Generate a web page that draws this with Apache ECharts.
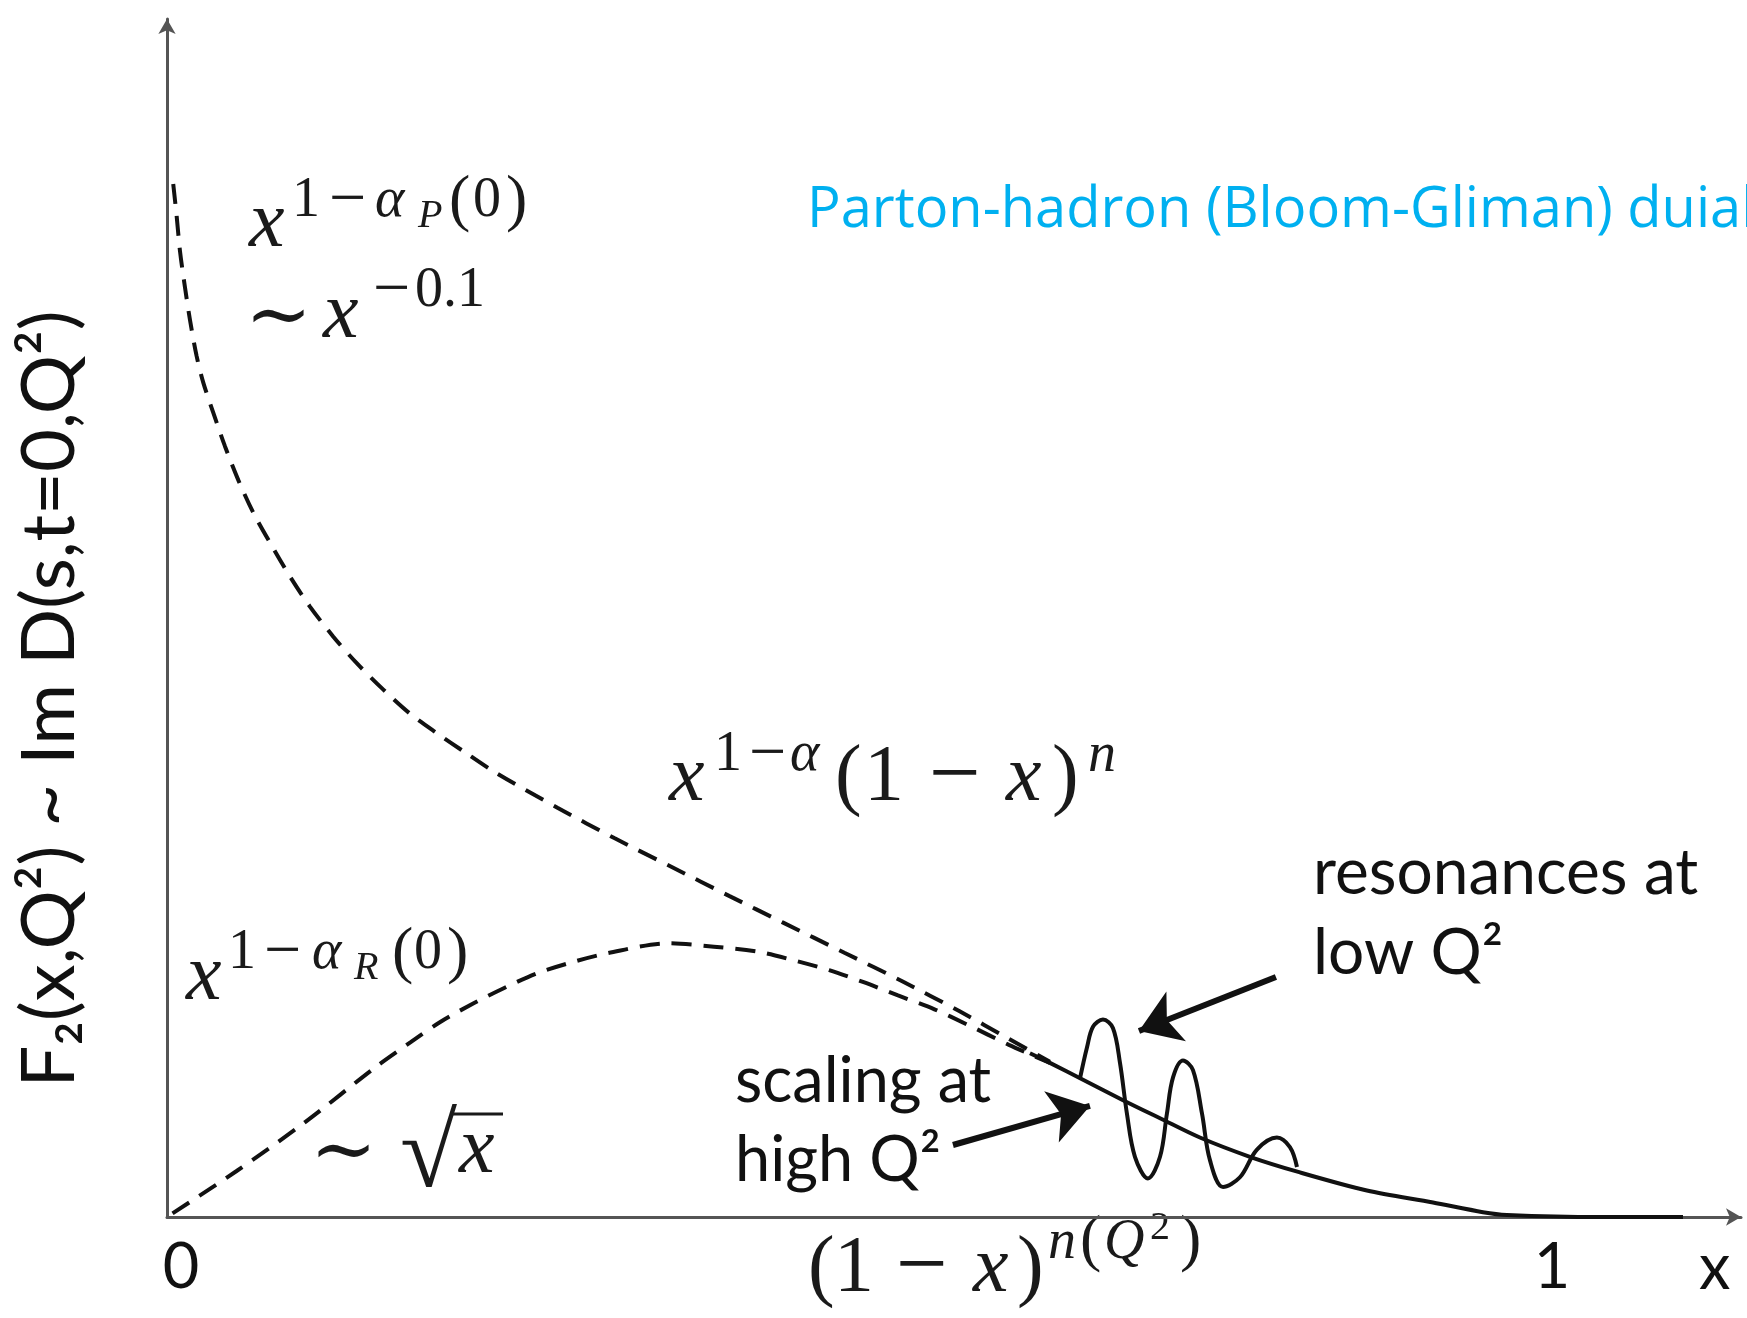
<!DOCTYPE html>
<html>
<head>
<meta charset="utf-8">
<script src="https://cdn.jsdelivr.net/npm/echarts@6/dist/echarts.min.js"></script>
<style>
  html, body { margin: 0; padding: 0; background: #ffffff; }
  #chart { width: 1747px; height: 1318px; }
</style>
</head>
<body>
<div id="chart"></div>
<script>
// Structure function F2 versus x, arbitrary units (0 on the x axis).
// Pomeron-dominated small-x rise, ~ x^(1 - alpha_P(0)) ~ x^-0.1
const pomeronCurve = [
  [0.0045, 0.858], [0.0070, 0.831], [0.0094, 0.802], [0.0130, 0.772], [0.0166, 0.745],
  [0.0214, 0.715], [0.0262, 0.693], [0.0334, 0.668], [0.0419, 0.640], [0.0515, 0.612],
  [0.0623, 0.585], [0.0744, 0.560], [0.0888, 0.532], [0.1032, 0.507], [0.1201, 0.482],
  [0.1370, 0.460], [0.1562, 0.438], [0.1755, 0.418], [0.1947, 0.402], [0.2164, 0.385],
  [0.2381, 0.3685], [0.2819, 0.340], [0.3233, 0.3145], [0.3648, 0.2905], [0.4062, 0.2665],
  [0.4449, 0.2445], [0.4891, 0.2195], [0.5305, 0.196], [0.5720, 0.171], [0.6079, 0.148],
  [0.6375, 0.129]
];
// Reggeon (valence) contribution, ~ x^(1 - alpha_R(0)) ~ sqrt(x)
const reggeonCurve = [
  [0.0040, 0.003], [0.0500, 0.038], [0.1000, 0.079], [0.1500, 0.124], [0.1757, 0.145],
  [0.1973, 0.162], [0.2214, 0.1775], [0.2431, 0.190], [0.2671, 0.2024], [0.2936, 0.212],
  [0.3177, 0.219], [0.3618, 0.2273], [0.3949, 0.2245], [0.4283, 0.220], [0.4532, 0.213],
  [0.4781, 0.205], [0.5030, 0.195], [0.5278, 0.184], [0.5541, 0.1725], [0.5775, 0.160],
  [0.6079, 0.143], [0.6375, 0.128]
];
// Scaling curve at high Q^2, ~ (1 - x)^n(Q^2)
const scalingCurve = [
  [0.6231, 0.136], [0.6375, 0.128], [0.6614, 0.114], [0.6903, 0.097], [0.7170, 0.082],
  [0.7458, 0.066], [0.7819, 0.050], [0.8181, 0.037], [0.8664, 0.022], [0.9141, 0.012],
  [0.9502, 0.004], [0.9675, 0.0017], [1.0347, 0.0], [1.0946, 0.0]
];
// Resonance bumps at low Q^2
const resonanceCurve = [
  [0.6592, 0.115], [0.6643, 0.141], [0.6686, 0.158], [0.6758, 0.164], [0.6830, 0.157],
  [0.6881, 0.128], [0.6931, 0.086], [0.6989, 0.050], [0.7083, 0.032], [0.7170, 0.050],
  [0.7220, 0.086], [0.7264, 0.116], [0.7336, 0.130], [0.7408, 0.122], [0.7473, 0.086],
  [0.7531, 0.047], [0.7625, 0.025], [0.7747, 0.033], [0.7870, 0.056], [0.8014, 0.066],
  [0.8108, 0.058], [0.8159, 0.0415]
];
const xTickValues = [0, 1];
const xTickLabels = ['0', '1'];
const titleText = 'Parton-hadron (Bloom-Gliman) duial';
const yAxisTitle = 'F\u2082(x,Q\u00B2) ~ Im D(s,t=0,Q\u00B2)';
const xAxisTitle = 'x';

const SERIF = '"Liberation Serif", "DejaVu Serif", serif';
const SANS = 'Lato, "Noto Sans", sans-serif';
const INK = '#1a1a1a';

// one glyph run of a formula, placed by its left edge and baseline
function tok(text, left, base, size, italic) {
  return {
    type: 'text', x: left, y: base - 0.3375 * size, silent: true,
    style: {
      text: text, fontFamily: SERIF, fontSize: size,
      fontStyle: italic ? 'italic' : 'normal', fill: INK,
      align: 'left', verticalAlign: 'middle'
    }
  };
}
function sans(text, left, base, size) {
  return {
    type: 'text', x: left, y: base - 0.387 * size, silent: true,
    style: {
      text: text, fontFamily: SANS, fontSize: size, fill: '#111',
      align: 'left', verticalAlign: 'middle'
    }
  };
}

const formulas = [
  // x^{1-alpha_P(0)}
  tok('x', 249, 252, 80, true),
  tok('1', 292, 220, 56), tok('\u2212', 329, 224, 66), tok('\u03B1', 375, 220, 56, true),
  tok('P', 418, 230, 40, true), tok('(', 449, 224, 64), tok('0', 473, 220, 56), tok(')', 506, 224, 64),
  // ~ x^{-0.1}
  tok('\u223C', 245, 347, 80), tok('x', 323, 343, 80, true),
  tok('\u2212', 373, 314, 66), tok('0.1', 415, 310, 56),
  // x^{1-alpha}(1 - x)^n
  tok('x', 669, 806, 80, true),
  tok('1', 714, 774, 56), tok('\u2212', 749, 778, 66), tok('\u03B1', 790, 774, 56, true),
  tok('(', 835, 806, 80), tok('1', 864, 806, 80), tok('\u2212', 929, 810, 92),
  tok('x', 1006, 806, 80, true), tok(')', 1052, 806, 80), tok('n', 1088, 775, 56, true),
  // x^{1-alpha_R(0)}
  tok('x', 186, 1005, 80, true),
  tok('1', 228, 972, 56), tok('\u2212', 264, 976, 66), tok('\u03B1', 312, 972, 56, true),
  tok('R', 354, 982, 40, true), tok('(', 392, 976, 64), tok('0', 414, 972, 56), tok(')', 447, 976, 64),
  // ~ sqrt(x)
  tok('\u223C', 310, 1182, 80), tok('\u221A', 400, 1194, 104), tok('x', 459, 1178, 80, true),
  { type: 'line', silent: true, shape: { x1: 450, y1: 1114, x2: 503, y2: 1114 },
    style: { stroke: INK, lineWidth: 3 } },
  // (1 - x)^{n(Q^2)}
  tok('(', 808, 1297, 80), tok('1', 834, 1297, 80), tok('\u2212', 896, 1301, 92),
  tok('x', 973, 1297, 80, true), tok(')', 1017, 1297, 80),
  tok('n', 1048, 1262, 56, true), tok('(', 1080, 1264, 64), tok('Q', 1104, 1262, 56, true),
  tok('2', 1150, 1242, 40), tok(')', 1180, 1264, 64)
];

const notes = [
  sans('resonances at', 1313, 898, 64),
  sans('low Q\u00B2', 1313, 978, 64),
  sans('scaling at', 735, 1106, 63),
  sans('high Q\u00B2', 735, 1185, 63)
];

const dashed = { color: '#111', width: 4, type: [20, 12] };

const option = {
  animation: false,
  backgroundColor: '#ffffff',
  title: {
    text: titleText, left: 807, top: 183, padding: 0,
    textStyle: { fontFamily: '"Open Sans", "Noto Sans", sans-serif', fontSize: 56,
                 fontWeight: 'normal', color: '#00B0F0' }
  },
  grid: { left: 167, right: 6, top: 19, bottom: 101, containLabel: false },
  xAxis: {
    type: 'value', min: 0, max: 1.1365, interval: 1,
    name: xAxisTitle, nameLocation: 'end', nameGap: -42,
    nameTextStyle: { fontFamily: SANS, fontSize: 63, color: '#111',
                     verticalAlign: 'top', lineHeight: 63, padding: [20, 0, 0, 0] },
    axisLine: { show: true, symbol: ['none', 'arrow'], symbolSize: [13, 15],
                lineStyle: { color: '#555', width: 3 } },
    axisTick: { show: false },
    splitLine: { show: false },
    axisLabel: {
      margin: 19,
      formatter: function (v) {
        const i = xTickValues.indexOf(v);
        if (i < 0) return '';
        return i === 0 ? '{zero|' + xTickLabels[i] + '}' : '{one|' + xTickLabels[i] + '}';
      },
      rich: {
        zero: { fontFamily: SANS, fontSize: 63, color: '#111', padding: [0, 0, 0, 28] },
        one: { fontFamily: SANS, fontSize: 63, color: '#111' }
      }
    }
  },
  yAxis: {
    type: 'value', min: 0, max: 0.995,
    name: yAxisTitle, nameLocation: 'middle', nameGap: 80, nameRotate: 90,
    nameTextStyle: { fontFamily: SANS, fontSize: 74, color: '#111', padding: [0, 162, 0, 0] },
    axisLine: { show: true, symbol: ['none', 'arrow'], symbolSize: [13, 15],
                lineStyle: { color: '#555', width: 3 } },
    axisTick: { show: false },
    axisLabel: { show: false },
    splitLine: { show: false }
  },
  series: [
    { name: 'pomeron', type: 'line', data: pomeronCurve, smooth: 0.3, showSymbol: false,
      clip: false, lineStyle: dashed, silent: true },
    { name: 'reggeon', type: 'line', data: reggeonCurve, smooth: 0.3, showSymbol: false,
      clip: false, lineStyle: dashed, silent: true },
    { name: 'scaling', type: 'line', data: scalingCurve, smooth: 0.3, showSymbol: false,
      clip: false, lineStyle: { color: '#111', width: 4 }, silent: true },
    { name: 'resonances', type: 'line', data: resonanceCurve, smooth: 0.35, showSymbol: false,
      clip: false, lineStyle: { color: '#111', width: 4 }, silent: true },
    { name: 'pointers', type: 'lines', coordinateSystem: 'cartesian2d', silent: true,
      symbol: ['none', 'arrow'], symbolSize: 40,
      lineStyle: { color: '#111', width: 6, opacity: 1, curveness: 0 },
      data: [
        { coords: [[0.8007, 0.1993], [0.7018, 0.1545]] },
        { coords: [[0.5675, 0.0598], [0.6664, 0.0922]] }
      ] }
  ],
  graphic: { elements: formulas.concat(notes) }
};

const chart = echarts.init(document.getElementById('chart'), null, { renderer: 'canvas' });
chart.setOption(option);
</script>
</body>
</html>
